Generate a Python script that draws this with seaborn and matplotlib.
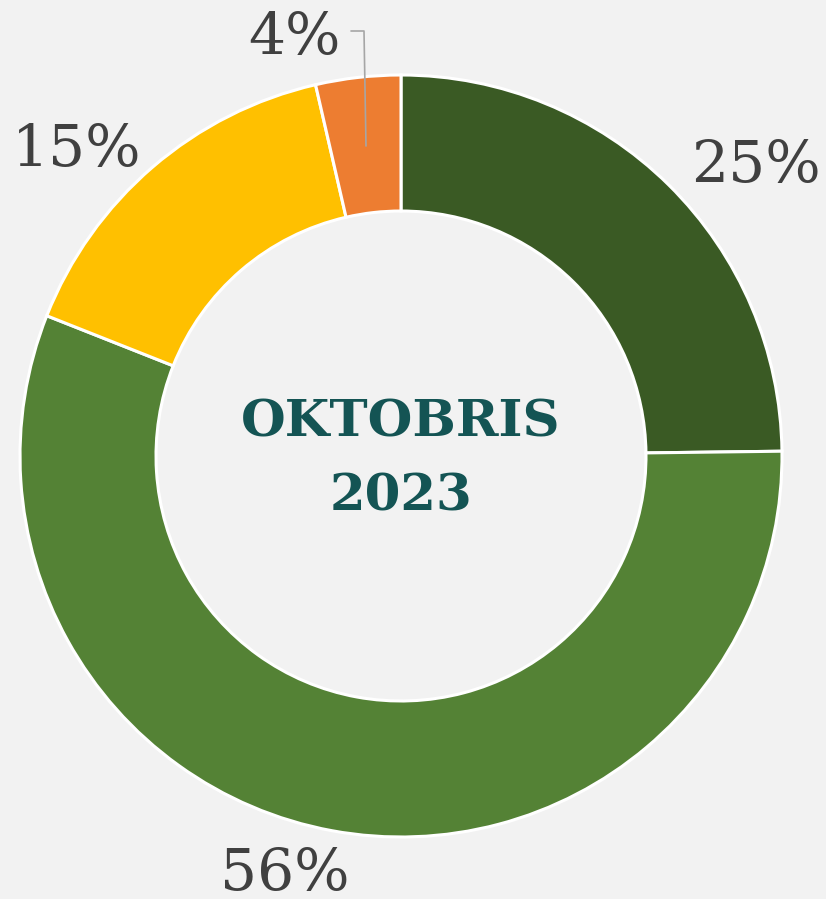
import seaborn as sns
from matplotlib import pyplot as plt

# share of each category, clockwise from the top
labels = ["25%", "56%", "15%", "4%"]
values = [24.8, 56.2, 15.4, 3.6]
colors = ["#3A5A24", "#548235", "#FFC000", "#ED7D31"]
center_lines = ["OKTOBRIS", "2023"]

# label text positions in pixels (x, y from top)
label_pos = [(756, 166), (285, 874), (77, 150), (295, 38)]

sns.set_theme(style="white")
plt.rcParams["font.family"] = ["DejaVu Serif", "DejaVu Sans"]

W, H = 826, 899
fig = plt.figure(figsize=(W / 100, H / 100), dpi=100, facecolor="#F2F2F2")
ax = fig.add_axes([0, 0, 1, 1])
ax.set_facecolor("#F2F2F2")

cx, cy, r = 401, H - 456, 381
ax.pie(values, colors=sns.color_palette(colors), startangle=90, counterclock=False,
       center=(cx, cy), radius=r, frame=True,
       wedgeprops=dict(width=r * 0.357, edgecolor="white", linewidth=2.2))
ax.set_xlim(0, W)
ax.set_ylim(0, H)
ax.set_aspect("equal")
ax.axis("off")

for lab, (x, y) in zip(labels, label_pos):
    ax.text(x, H - y, lab, ha="center", va="center", fontsize=42, color="#404040")

# leader line for the small slice
ax.plot([366, 364, 351], [H - 146, H - 31, H - 31], color="#A6A6A6", lw=1.2)

for line, y in zip(center_lines, [423, 497]):
    ax.text(cx, H - y, line, ha="center", va="center", fontsize=37,
            fontweight="bold", color="#145454")

fig.savefig("out.png", dpi=100, facecolor=fig.get_facecolor())
